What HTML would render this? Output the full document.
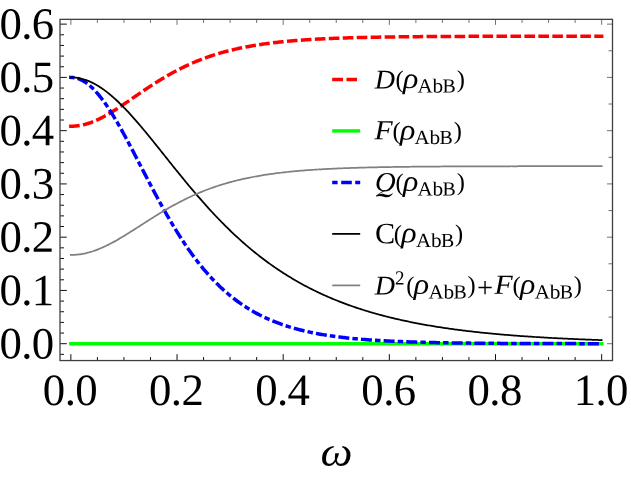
<!DOCTYPE html>
<html><head><meta charset="utf-8"><title>plot</title>
<style>html,body{margin:0;padding:0;background:#fff;}svg{display:block;will-change:transform;}text{font-family:"Liberation Serif",serif;fill:#000;}.it{font-style:italic;}</style></head><body>
<svg width="631" height="478" viewBox="0 0 631 478">
<rect x="0" y="0" width="631" height="478" fill="#fff"/>
<g fill="none" stroke-linejoin="round" stroke-linecap="square">
<path d="M70.86 126.27 L72.19 126.25 L73.51 126.20 L74.84 126.11 L76.17 126.00 L77.50 125.84 L78.82 125.66 L80.15 125.44 L81.48 125.19 L82.80 124.91 L84.13 124.59 L85.46 124.25 L86.78 123.87 L88.11 123.46 L89.44 123.03 L90.77 122.56 L92.09 122.07 L93.42 121.55 L94.75 121.01 L96.07 120.44 L97.40 119.84 L98.73 119.22 L100.05 118.58 L101.38 117.91 L102.71 117.23 L104.03 116.52 L105.36 115.80 L106.69 115.06 L108.02 114.30 L109.34 113.52 L110.67 112.73 L112.00 111.92 L113.32 111.10 L114.65 110.27 L115.98 109.43 L117.30 108.57 L118.63 107.71 L119.96 106.83 L121.29 105.95 L122.61 105.07 L123.94 104.17 L125.27 103.27 L126.59 102.37 L127.92 101.46 L129.25 100.55 L130.57 99.64 L131.90 98.72 L133.23 97.81 L134.56 96.89 L135.88 95.98 L137.21 95.07 L138.54 94.15 L139.86 93.25 L141.19 92.34 L142.52 91.44 L143.84 90.54 L145.17 89.64 L146.50 88.75 L147.83 87.87 L149.15 86.99 L150.48 86.12 L151.81 85.25 L153.13 84.39 L154.46 83.54 L155.79 82.69 L157.12 81.86 L158.44 81.03 L159.77 80.21 L161.10 79.40 L162.42 78.60 L163.75 77.80 L165.08 77.02 L166.40 76.24 L167.73 75.48 L169.06 74.72 L170.38 73.97 L171.71 73.24 L173.04 72.51 L174.37 71.79 L175.69 71.09 L177.02 70.39 L178.35 69.70 L179.67 69.03 L181.00 68.36 L182.33 67.70 L183.65 67.06 L184.98 66.42 L186.31 65.80 L187.64 65.18 L188.96 64.58 L190.29 63.98 L191.62 63.40 L192.94 62.82 L194.27 62.26 L195.60 61.70 L196.92 61.16 L198.25 60.62 L199.58 60.09 L200.91 59.58 L202.23 59.07 L203.56 58.57 L204.89 58.09 L206.21 57.61 L207.54 57.14 L208.87 56.67 L210.19 56.22 L211.52 55.78 L212.85 55.34 L214.18 54.92 L215.50 54.50 L216.83 54.09 L218.16 53.69 L219.48 53.29 L220.81 52.91 L222.14 52.53 L223.46 52.16 L224.79 51.80 L226.12 51.44 L227.45 51.10 L228.77 50.76 L230.10 50.42 L231.43 50.10 L232.75 49.78 L234.08 49.47 L235.41 49.16 L236.74 48.86 L238.06 48.57 L239.39 48.28 L240.72 48.00 L242.04 47.73 L243.37 47.46 L244.70 47.20 L246.02 46.94 L247.35 46.69 L248.68 46.44 L250.00 46.20 L251.33 45.97 L252.66 45.74 L253.99 45.51 L255.31 45.30 L256.64 45.08 L257.97 44.87 L259.29 44.67 L260.62 44.47 L261.95 44.27 L263.27 44.08 L264.60 43.89 L265.93 43.71 L267.26 43.53 L268.58 43.36 L269.91 43.19 L271.24 43.02 L272.56 42.86 L273.89 42.70 L275.22 42.54 L276.55 42.39 L277.87 42.24 L279.20 42.10 L280.53 41.96 L281.85 41.82 L283.18 41.68 L284.51 41.55 L285.83 41.42 L287.16 41.30 L288.49 41.17 L289.81 41.05 L291.14 40.94 L292.47 40.82 L293.80 40.71 L295.12 40.60 L296.45 40.50 L297.78 40.39 L299.10 40.29 L300.43 40.19 L301.76 40.10 L303.08 40.00 L304.41 39.91 L305.74 39.82 L307.07 39.73 L308.39 39.65 L309.72 39.56 L311.05 39.48 L312.37 39.40 L313.70 39.32 L315.03 39.25 L316.36 39.17 L317.68 39.10 L319.01 39.03 L320.34 38.96 L321.66 38.89 L322.99 38.83 L324.32 38.77 L325.64 38.70 L326.97 38.64 L328.30 38.58 L329.62 38.52 L330.95 38.47 L332.28 38.41 L333.61 38.36 L334.93 38.31 L336.26 38.25 L337.59 38.20 L338.91 38.16 L340.24 38.11 L341.57 38.06 L342.89 38.02 L344.22 37.97 L345.55 37.93 L346.88 37.89 L348.20 37.84 L349.53 37.80 L350.86 37.76 L352.18 37.73 L353.51 37.69 L354.84 37.65 L356.16 37.62 L357.49 37.58 L358.82 37.55 L360.15 37.52 L361.47 37.48 L362.80 37.45 L364.13 37.42 L365.45 37.39 L366.78 37.36 L368.11 37.33 L369.44 37.31 L370.76 37.28 L372.09 37.25 L373.42 37.23 L374.74 37.20 L376.07 37.18 L377.40 37.15 L378.72 37.13 L380.05 37.11 L381.38 37.08 L382.70 37.06 L384.03 37.04 L385.36 37.02 L386.69 37.00 L388.01 36.98 L389.34 36.96 L390.67 36.94 L391.99 36.93 L393.32 36.91 L394.65 36.89 L395.98 36.87 L397.30 36.86 L398.63 36.84 L399.96 36.83 L401.28 36.81 L402.61 36.80 L403.94 36.78 L405.26 36.77 L406.59 36.75 L407.92 36.74 L409.24 36.73 L410.57 36.71 L411.90 36.70 L413.23 36.69 L414.55 36.68 L415.88 36.66 L417.21 36.65 L418.53 36.64 L419.86 36.63 L421.19 36.62 L422.51 36.61 L423.84 36.60 L425.17 36.59 L426.50 36.58 L427.82 36.57 L429.15 36.56 L430.48 36.55 L431.80 36.55 L433.13 36.54 L434.46 36.53 L435.78 36.52 L437.11 36.51 L438.44 36.51 L439.77 36.50 L441.09 36.49 L442.42 36.48 L443.75 36.48 L445.07 36.47 L446.40 36.46 L447.73 36.46 L449.06 36.45 L450.38 36.44 L451.71 36.44 L453.04 36.43 L454.36 36.43 L455.69 36.42 L457.02 36.42 L458.34 36.41 L459.67 36.41 L461.00 36.40 L462.32 36.40 L463.65 36.39 L464.98 36.39 L466.31 36.38 L467.63 36.38 L468.96 36.37 L470.29 36.37 L471.61 36.36 L472.94 36.36 L474.27 36.36 L475.59 36.35 L476.92 36.35 L478.25 36.35 L479.58 36.34 L480.90 36.34 L482.23 36.34 L483.56 36.33 L484.88 36.33 L486.21 36.33 L487.54 36.32 L488.86 36.32 L490.19 36.32 L491.52 36.31 L492.85 36.31 L494.17 36.31 L495.50 36.31 L496.83 36.30 L498.15 36.30 L499.48 36.30 L500.81 36.30 L502.13 36.29 L503.46 36.29 L504.79 36.29 L506.12 36.29 L507.44 36.29 L508.77 36.28 L510.10 36.28 L511.42 36.28 L512.75 36.28 L514.08 36.28 L515.40 36.27 L516.73 36.27 L518.06 36.27 L519.39 36.27 L520.71 36.27 L522.04 36.27 L523.37 36.26 L524.69 36.26 L526.02 36.26 L527.35 36.26 L528.67 36.26 L530.00 36.26 L531.33 36.26 L532.66 36.25 L533.98 36.25 L535.31 36.25 L536.64 36.25 L537.96 36.25 L539.29 36.25 L540.62 36.25 L541.94 36.25 L543.27 36.25 L544.60 36.24 L545.93 36.24 L547.25 36.24 L548.58 36.24 L549.91 36.24 L551.23 36.24 L552.56 36.24 L553.89 36.24 L555.21 36.24 L556.54 36.24 L557.87 36.24 L559.20 36.23 L560.52 36.23 L561.85 36.23 L563.18 36.23 L564.50 36.23 L565.83 36.23 L567.16 36.23 L568.48 36.23 L569.81 36.23 L571.14 36.23 L572.47 36.23 L573.79 36.23 L575.12 36.23 L576.45 36.23 L577.77 36.23 L579.10 36.22 L580.43 36.22 L581.75 36.22 L583.08 36.22 L584.41 36.22 L585.74 36.22 L587.06 36.22 L588.39 36.22 L589.72 36.22 L591.04 36.22 L592.37 36.22 L593.70 36.22 L595.02 36.22 L596.35 36.22 L597.68 36.22 L599.01 36.22 L600.33 36.22 L601.66 36.22" stroke="#ff0000" stroke-width="3.5" stroke-dasharray="7.1 6.875"/>
<path d="M70.86 343.70 L72.19 343.70 L73.51 343.70 L74.84 343.70 L76.17 343.70 L77.50 343.70 L78.82 343.70 L80.15 343.70 L81.48 343.70 L82.80 343.70 L84.13 343.70 L85.46 343.70 L86.78 343.70 L88.11 343.70 L89.44 343.70 L90.77 343.70 L92.09 343.70 L93.42 343.70 L94.75 343.70 L96.07 343.70 L97.40 343.70 L98.73 343.70 L100.05 343.70 L101.38 343.70 L102.71 343.70 L104.03 343.70 L105.36 343.70 L106.69 343.70 L108.02 343.70 L109.34 343.70 L110.67 343.70 L112.00 343.70 L113.32 343.70 L114.65 343.70 L115.98 343.70 L117.30 343.70 L118.63 343.70 L119.96 343.70 L121.29 343.70 L122.61 343.70 L123.94 343.70 L125.27 343.70 L126.59 343.70 L127.92 343.70 L129.25 343.70 L130.57 343.70 L131.90 343.70 L133.23 343.70 L134.56 343.70 L135.88 343.70 L137.21 343.70 L138.54 343.70 L139.86 343.70 L141.19 343.70 L142.52 343.70 L143.84 343.70 L145.17 343.70 L146.50 343.70 L147.83 343.70 L149.15 343.70 L150.48 343.70 L151.81 343.70 L153.13 343.70 L154.46 343.70 L155.79 343.70 L157.12 343.70 L158.44 343.70 L159.77 343.70 L161.10 343.70 L162.42 343.70 L163.75 343.70 L165.08 343.70 L166.40 343.70 L167.73 343.70 L169.06 343.70 L170.38 343.70 L171.71 343.70 L173.04 343.70 L174.37 343.70 L175.69 343.70 L177.02 343.70 L178.35 343.70 L179.67 343.70 L181.00 343.70 L182.33 343.70 L183.65 343.70 L184.98 343.70 L186.31 343.70 L187.64 343.70 L188.96 343.70 L190.29 343.70 L191.62 343.70 L192.94 343.70 L194.27 343.70 L195.60 343.70 L196.92 343.70 L198.25 343.70 L199.58 343.70 L200.91 343.70 L202.23 343.70 L203.56 343.70 L204.89 343.70 L206.21 343.70 L207.54 343.70 L208.87 343.70 L210.19 343.70 L211.52 343.70 L212.85 343.70 L214.18 343.70 L215.50 343.70 L216.83 343.70 L218.16 343.70 L219.48 343.70 L220.81 343.70 L222.14 343.70 L223.46 343.70 L224.79 343.70 L226.12 343.70 L227.45 343.70 L228.77 343.70 L230.10 343.70 L231.43 343.70 L232.75 343.70 L234.08 343.70 L235.41 343.70 L236.74 343.70 L238.06 343.70 L239.39 343.70 L240.72 343.70 L242.04 343.70 L243.37 343.70 L244.70 343.70 L246.02 343.70 L247.35 343.70 L248.68 343.70 L250.00 343.70 L251.33 343.70 L252.66 343.70 L253.99 343.70 L255.31 343.70 L256.64 343.70 L257.97 343.70 L259.29 343.70 L260.62 343.70 L261.95 343.70 L263.27 343.70 L264.60 343.70 L265.93 343.70 L267.26 343.70 L268.58 343.70 L269.91 343.70 L271.24 343.70 L272.56 343.70 L273.89 343.70 L275.22 343.70 L276.55 343.70 L277.87 343.70 L279.20 343.70 L280.53 343.70 L281.85 343.70 L283.18 343.70 L284.51 343.70 L285.83 343.70 L287.16 343.70 L288.49 343.70 L289.81 343.70 L291.14 343.70 L292.47 343.70 L293.80 343.70 L295.12 343.70 L296.45 343.70 L297.78 343.70 L299.10 343.70 L300.43 343.70 L301.76 343.70 L303.08 343.70 L304.41 343.70 L305.74 343.70 L307.07 343.70 L308.39 343.70 L309.72 343.70 L311.05 343.70 L312.37 343.70 L313.70 343.70 L315.03 343.70 L316.36 343.70 L317.68 343.70 L319.01 343.70 L320.34 343.70 L321.66 343.70 L322.99 343.70 L324.32 343.70 L325.64 343.70 L326.97 343.70 L328.30 343.70 L329.62 343.70 L330.95 343.70 L332.28 343.70 L333.61 343.70 L334.93 343.70 L336.26 343.70 L337.59 343.70 L338.91 343.70 L340.24 343.70 L341.57 343.70 L342.89 343.70 L344.22 343.70 L345.55 343.70 L346.88 343.70 L348.20 343.70 L349.53 343.70 L350.86 343.70 L352.18 343.70 L353.51 343.70 L354.84 343.70 L356.16 343.70 L357.49 343.70 L358.82 343.70 L360.15 343.70 L361.47 343.70 L362.80 343.70 L364.13 343.70 L365.45 343.70 L366.78 343.70 L368.11 343.70 L369.44 343.70 L370.76 343.70 L372.09 343.70 L373.42 343.70 L374.74 343.70 L376.07 343.70 L377.40 343.70 L378.72 343.70 L380.05 343.70 L381.38 343.70 L382.70 343.70 L384.03 343.70 L385.36 343.70 L386.69 343.70 L388.01 343.70 L389.34 343.70 L390.67 343.70 L391.99 343.70 L393.32 343.70 L394.65 343.70 L395.98 343.70 L397.30 343.70 L398.63 343.70 L399.96 343.70 L401.28 343.70 L402.61 343.70 L403.94 343.70 L405.26 343.70 L406.59 343.70 L407.92 343.70 L409.24 343.70 L410.57 343.70 L411.90 343.70 L413.23 343.70 L414.55 343.70 L415.88 343.70 L417.21 343.70 L418.53 343.70 L419.86 343.70 L421.19 343.70 L422.51 343.70 L423.84 343.70 L425.17 343.70 L426.50 343.70 L427.82 343.70 L429.15 343.70 L430.48 343.70 L431.80 343.70 L433.13 343.70 L434.46 343.70 L435.78 343.70 L437.11 343.70 L438.44 343.70 L439.77 343.70 L441.09 343.70 L442.42 343.70 L443.75 343.70 L445.07 343.70 L446.40 343.70 L447.73 343.70 L449.06 343.70 L450.38 343.70 L451.71 343.70 L453.04 343.70 L454.36 343.70 L455.69 343.70 L457.02 343.70 L458.34 343.70 L459.67 343.70 L461.00 343.70 L462.32 343.70 L463.65 343.70 L464.98 343.70 L466.31 343.70 L467.63 343.70 L468.96 343.70 L470.29 343.70 L471.61 343.70 L472.94 343.70 L474.27 343.70 L475.59 343.70 L476.92 343.70 L478.25 343.70 L479.58 343.70 L480.90 343.70 L482.23 343.70 L483.56 343.70 L484.88 343.70 L486.21 343.70 L487.54 343.70 L488.86 343.70 L490.19 343.70 L491.52 343.70 L492.85 343.70 L494.17 343.70 L495.50 343.70 L496.83 343.70 L498.15 343.70 L499.48 343.70 L500.81 343.70 L502.13 343.70 L503.46 343.70 L504.79 343.70 L506.12 343.70 L507.44 343.70 L508.77 343.70 L510.10 343.70 L511.42 343.70 L512.75 343.70 L514.08 343.70 L515.40 343.70 L516.73 343.70 L518.06 343.70 L519.39 343.70 L520.71 343.70 L522.04 343.70 L523.37 343.70 L524.69 343.70 L526.02 343.70 L527.35 343.70 L528.67 343.70 L530.00 343.70 L531.33 343.70 L532.66 343.70 L533.98 343.70 L535.31 343.70 L536.64 343.70 L537.96 343.70 L539.29 343.70 L540.62 343.70 L541.94 343.70 L543.27 343.70 L544.60 343.70 L545.93 343.70 L547.25 343.70 L548.58 343.70 L549.91 343.70 L551.23 343.70 L552.56 343.70 L553.89 343.70 L555.21 343.70 L556.54 343.70 L557.87 343.70 L559.20 343.70 L560.52 343.70 L561.85 343.70 L563.18 343.70 L564.50 343.70 L565.83 343.70 L567.16 343.70 L568.48 343.70 L569.81 343.70 L571.14 343.70 L572.47 343.70 L573.79 343.70 L575.12 343.70 L576.45 343.70 L577.77 343.70 L579.10 343.70 L580.43 343.70 L581.75 343.70 L583.08 343.70 L584.41 343.70 L585.74 343.70 L587.06 343.70 L588.39 343.70 L589.72 343.70 L591.04 343.70 L592.37 343.70 L593.70 343.70 L595.02 343.70 L596.35 343.70 L597.68 343.70 L599.01 343.70 L600.33 343.70 L601.66 343.70" stroke="#00ff00" stroke-width="3.5"/>
<path d="M70.86 77.40 L72.19 77.44 L73.51 77.57 L74.84 77.77 L76.17 78.06 L77.50 78.44 L78.82 78.89 L80.15 79.43 L81.48 80.05 L82.80 80.74 L84.13 81.52 L85.46 82.37 L86.78 83.30 L88.11 84.31 L89.44 85.39 L90.77 86.55 L92.09 87.77 L93.42 89.07 L94.75 90.44 L96.07 91.87 L97.40 93.37 L98.73 94.94 L100.05 96.57 L101.38 98.25 L102.71 100.00 L104.03 101.80 L105.36 103.66 L106.69 105.57 L108.02 107.53 L109.34 109.54 L110.67 111.60 L112.00 113.70 L113.32 115.84 L114.65 118.03 L115.98 120.25 L117.30 122.51 L118.63 124.80 L119.96 127.13 L121.29 129.48 L122.61 131.86 L123.94 134.27 L125.27 136.70 L126.59 139.15 L127.92 141.62 L129.25 144.11 L130.57 146.62 L131.90 149.14 L133.23 151.67 L134.56 154.21 L135.88 156.75 L137.21 159.31 L138.54 161.87 L139.86 164.43 L141.19 166.99 L142.52 169.55 L143.84 172.11 L145.17 174.67 L146.50 177.22 L147.83 179.76 L149.15 182.30 L150.48 184.83 L151.81 187.35 L153.13 189.85 L154.46 192.34 L155.79 194.82 L157.12 197.29 L158.44 199.74 L159.77 202.17 L161.10 204.58 L162.42 206.97 L163.75 209.35 L165.08 211.70 L166.40 214.03 L167.73 216.34 L169.06 218.63 L170.38 220.90 L171.71 223.14 L173.04 225.36 L174.37 227.55 L175.69 229.72 L177.02 231.86 L178.35 233.98 L179.67 236.07 L181.00 238.13 L182.33 240.17 L183.65 242.18 L184.98 244.16 L186.31 246.12 L187.64 248.04 L188.96 249.95 L190.29 251.82 L191.62 253.66 L192.94 255.48 L194.27 257.27 L195.60 259.03 L196.92 260.77 L198.25 262.47 L199.58 264.15 L200.91 265.80 L202.23 267.43 L203.56 269.03 L204.89 270.60 L206.21 272.14 L207.54 273.66 L208.87 275.15 L210.19 276.61 L211.52 278.05 L212.85 279.46 L214.18 280.84 L215.50 282.21 L216.83 283.54 L218.16 284.85 L219.48 286.14 L220.81 287.40 L222.14 288.64 L223.46 289.85 L224.79 291.04 L226.12 292.21 L227.45 293.36 L228.77 294.48 L230.10 295.58 L231.43 296.66 L232.75 297.71 L234.08 298.75 L235.41 299.76 L236.74 300.76 L238.06 301.73 L239.39 302.68 L240.72 303.61 L242.04 304.53 L243.37 305.42 L244.70 306.30 L246.02 307.16 L247.35 308.00 L248.68 308.82 L250.00 309.62 L251.33 310.41 L252.66 311.18 L253.99 311.93 L255.31 312.67 L256.64 313.39 L257.97 314.10 L259.29 314.79 L260.62 315.46 L261.95 316.12 L263.27 316.77 L264.60 317.40 L265.93 318.02 L267.26 318.62 L268.58 319.21 L269.91 319.79 L271.24 320.35 L272.56 320.90 L273.89 321.44 L275.22 321.97 L276.55 322.48 L277.87 322.99 L279.20 323.48 L280.53 323.96 L281.85 324.43 L283.18 324.89 L284.51 325.33 L285.83 325.77 L287.16 326.20 L288.49 326.62 L289.81 327.03 L291.14 327.42 L292.47 327.81 L293.80 328.20 L295.12 328.57 L296.45 328.93 L297.78 329.28 L299.10 329.63 L300.43 329.97 L301.76 330.30 L303.08 330.62 L304.41 330.94 L305.74 331.25 L307.07 331.55 L308.39 331.84 L309.72 332.13 L311.05 332.40 L312.37 332.68 L313.70 332.94 L315.03 333.20 L316.36 333.46 L317.68 333.71 L319.01 333.95 L320.34 334.19 L321.66 334.42 L322.99 334.64 L324.32 334.86 L325.64 335.08 L326.97 335.29 L328.30 335.49 L329.62 335.69 L330.95 335.88 L332.28 336.07 L333.61 336.26 L334.93 336.44 L336.26 336.62 L337.59 336.79 L338.91 336.96 L340.24 337.12 L341.57 337.28 L342.89 337.44 L344.22 337.59 L345.55 337.74 L346.88 337.89 L348.20 338.03 L349.53 338.17 L350.86 338.30 L352.18 338.44 L353.51 338.56 L354.84 338.69 L356.16 338.81 L357.49 338.93 L358.82 339.05 L360.15 339.16 L361.47 339.27 L362.80 339.38 L364.13 339.49 L365.45 339.59 L366.78 339.69 L368.11 339.79 L369.44 339.89 L370.76 339.98 L372.09 340.07 L373.42 340.16 L374.74 340.25 L376.07 340.33 L377.40 340.41 L378.72 340.49 L380.05 340.57 L381.38 340.65 L382.70 340.72 L384.03 340.80 L385.36 340.87 L386.69 340.94 L388.01 341.01 L389.34 341.07 L390.67 341.14 L391.99 341.20 L393.32 341.26 L394.65 341.32 L395.98 341.38 L397.30 341.44 L398.63 341.49 L399.96 341.55 L401.28 341.60 L402.61 341.65 L403.94 341.70 L405.26 341.75 L406.59 341.80 L407.92 341.85 L409.24 341.89 L410.57 341.94 L411.90 341.98 L413.23 342.02 L414.55 342.06 L415.88 342.10 L417.21 342.14 L418.53 342.18 L419.86 342.22 L421.19 342.25 L422.51 342.29 L423.84 342.33 L425.17 342.36 L426.50 342.39 L427.82 342.42 L429.15 342.46 L430.48 342.49 L431.80 342.52 L433.13 342.55 L434.46 342.57 L435.78 342.60 L437.11 342.63 L438.44 342.66 L439.77 342.68 L441.09 342.71 L442.42 342.73 L443.75 342.75 L445.07 342.78 L446.40 342.80 L447.73 342.82 L449.06 342.84 L450.38 342.87 L451.71 342.89 L453.04 342.91 L454.36 342.93 L455.69 342.94 L457.02 342.96 L458.34 342.98 L459.67 343.00 L461.00 343.02 L462.32 343.03 L463.65 343.05 L464.98 343.07 L466.31 343.08 L467.63 343.10 L468.96 343.11 L470.29 343.13 L471.61 343.14 L472.94 343.15 L474.27 343.17 L475.59 343.18 L476.92 343.19 L478.25 343.21 L479.58 343.22 L480.90 343.23 L482.23 343.24 L483.56 343.25 L484.88 343.26 L486.21 343.27 L487.54 343.29 L488.86 343.30 L490.19 343.31 L491.52 343.32 L492.85 343.32 L494.17 343.33 L495.50 343.34 L496.83 343.35 L498.15 343.36 L499.48 343.37 L500.81 343.38 L502.13 343.38 L503.46 343.39 L504.79 343.40 L506.12 343.41 L507.44 343.41 L508.77 343.42 L510.10 343.43 L511.42 343.44 L512.75 343.44 L514.08 343.45 L515.40 343.45 L516.73 343.46 L518.06 343.47 L519.39 343.47 L520.71 343.48 L522.04 343.48 L523.37 343.49 L524.69 343.49 L526.02 343.50 L527.35 343.50 L528.67 343.51 L530.00 343.51 L531.33 343.52 L532.66 343.52 L533.98 343.53 L535.31 343.53 L536.64 343.54 L537.96 343.54 L539.29 343.54 L540.62 343.55 L541.94 343.55 L543.27 343.55 L544.60 343.56 L545.93 343.56 L547.25 343.57 L548.58 343.57 L549.91 343.57 L551.23 343.57 L552.56 343.58 L553.89 343.58 L555.21 343.58 L556.54 343.59 L557.87 343.59 L559.20 343.59 L560.52 343.60 L561.85 343.60 L563.18 343.60 L564.50 343.60 L565.83 343.61 L567.16 343.61 L568.48 343.61 L569.81 343.61 L571.14 343.61 L572.47 343.62 L573.79 343.62 L575.12 343.62 L576.45 343.62 L577.77 343.62 L579.10 343.63 L580.43 343.63 L581.75 343.63 L583.08 343.63 L584.41 343.63 L585.74 343.63 L587.06 343.64 L588.39 343.64 L589.72 343.64 L591.04 343.64 L592.37 343.64 L593.70 343.64 L595.02 343.65 L596.35 343.65 L597.68 343.65 L599.01 343.65 L600.33 343.65 L601.66 343.65" stroke="#0000ff" stroke-width="3.5" stroke-dasharray="2 6.6 7.5 6.6"/>
<path d="M70.86 77.40 L72.19 77.42 L73.51 77.48 L74.84 77.59 L76.17 77.73 L77.50 77.92 L78.82 78.15 L80.15 78.42 L81.48 78.73 L82.80 79.08 L84.13 79.47 L85.46 79.90 L86.78 80.37 L88.11 80.88 L89.44 81.43 L90.77 82.01 L92.09 82.64 L93.42 83.30 L94.75 84.00 L96.07 84.74 L97.40 85.51 L98.73 86.32 L100.05 87.16 L101.38 88.04 L102.71 88.95 L104.03 89.89 L105.36 90.87 L106.69 91.88 L108.02 92.92 L109.34 93.99 L110.67 95.09 L112.00 96.21 L113.32 97.37 L114.65 98.55 L115.98 99.76 L117.30 101.00 L118.63 102.26 L119.96 103.55 L121.29 104.86 L122.61 106.19 L123.94 107.54 L125.27 108.91 L126.59 110.31 L127.92 111.72 L129.25 113.16 L130.57 114.61 L131.90 116.08 L133.23 117.56 L134.56 119.06 L135.88 120.58 L137.21 122.11 L138.54 123.65 L139.86 125.21 L141.19 126.77 L142.52 128.35 L143.84 129.94 L145.17 131.54 L146.50 133.14 L147.83 134.76 L149.15 136.38 L150.48 138.01 L151.81 139.65 L153.13 141.29 L154.46 142.94 L155.79 144.59 L157.12 146.24 L158.44 147.90 L159.77 149.56 L161.10 151.22 L162.42 152.88 L163.75 154.55 L165.08 156.21 L166.40 157.88 L167.73 159.54 L169.06 161.20 L170.38 162.86 L171.71 164.52 L173.04 166.18 L174.37 167.83 L175.69 169.48 L177.02 171.12 L178.35 172.76 L179.67 174.40 L181.00 176.03 L182.33 177.66 L183.65 179.28 L184.98 180.89 L186.31 182.50 L187.64 184.10 L188.96 185.69 L190.29 187.28 L191.62 188.86 L192.94 190.43 L194.27 191.99 L195.60 193.54 L196.92 195.09 L198.25 196.63 L199.58 198.15 L200.91 199.67 L202.23 201.18 L203.56 202.68 L204.89 204.17 L206.21 205.65 L207.54 207.12 L208.87 208.59 L210.19 210.04 L211.52 211.48 L212.85 212.90 L214.18 214.32 L215.50 215.73 L216.83 217.13 L218.16 218.52 L219.48 219.89 L220.81 221.26 L222.14 222.61 L223.46 223.95 L224.79 225.28 L226.12 226.60 L227.45 227.91 L228.77 229.21 L230.10 230.50 L231.43 231.77 L232.75 233.04 L234.08 234.29 L235.41 235.53 L236.74 236.76 L238.06 237.98 L239.39 239.19 L240.72 240.38 L242.04 241.57 L243.37 242.74 L244.70 243.90 L246.02 245.05 L247.35 246.19 L248.68 247.32 L250.00 248.44 L251.33 249.55 L252.66 250.64 L253.99 251.72 L255.31 252.80 L256.64 253.86 L257.97 254.91 L259.29 255.95 L260.62 256.98 L261.95 258.00 L263.27 259.01 L264.60 260.01 L265.93 261.00 L267.26 261.98 L268.58 262.94 L269.91 263.90 L271.24 264.85 L272.56 265.78 L273.89 266.71 L275.22 267.63 L276.55 268.53 L277.87 269.43 L279.20 270.31 L280.53 271.19 L281.85 272.06 L283.18 272.92 L284.51 273.77 L285.83 274.60 L287.16 275.43 L288.49 276.25 L289.81 277.06 L291.14 277.87 L292.47 278.66 L293.80 279.44 L295.12 280.22 L296.45 280.98 L297.78 281.74 L299.10 282.49 L300.43 283.23 L301.76 283.96 L303.08 284.69 L304.41 285.40 L305.74 286.11 L307.07 286.81 L308.39 287.50 L309.72 288.18 L311.05 288.86 L312.37 289.52 L313.70 290.18 L315.03 290.83 L316.36 291.48 L317.68 292.11 L319.01 292.74 L320.34 293.36 L321.66 293.98 L322.99 294.59 L324.32 295.19 L325.64 295.78 L326.97 296.36 L328.30 296.94 L329.62 297.51 L330.95 298.08 L332.28 298.64 L333.61 299.19 L334.93 299.74 L336.26 300.27 L337.59 300.81 L338.91 301.33 L340.24 301.85 L341.57 302.37 L342.89 302.87 L344.22 303.37 L345.55 303.87 L346.88 304.36 L348.20 304.84 L349.53 305.32 L350.86 305.79 L352.18 306.26 L353.51 306.72 L354.84 307.17 L356.16 307.62 L357.49 308.07 L358.82 308.51 L360.15 308.94 L361.47 309.37 L362.80 309.79 L364.13 310.21 L365.45 310.62 L366.78 311.03 L368.11 311.43 L369.44 311.83 L370.76 312.22 L372.09 312.61 L373.42 312.99 L374.74 313.37 L376.07 313.75 L377.40 314.12 L378.72 314.48 L380.05 314.84 L381.38 315.20 L382.70 315.55 L384.03 315.90 L385.36 316.24 L386.69 316.58 L388.01 316.92 L389.34 317.25 L390.67 317.58 L391.99 317.90 L393.32 318.22 L394.65 318.53 L395.98 318.84 L397.30 319.15 L398.63 319.46 L399.96 319.76 L401.28 320.05 L402.61 320.34 L403.94 320.63 L405.26 320.92 L406.59 321.20 L407.92 321.48 L409.24 321.75 L410.57 322.03 L411.90 322.29 L413.23 322.56 L414.55 322.82 L415.88 323.08 L417.21 323.34 L418.53 323.59 L419.86 323.84 L421.19 324.08 L422.51 324.33 L423.84 324.57 L425.17 324.80 L426.50 325.04 L427.82 325.27 L429.15 325.50 L430.48 325.72 L431.80 325.95 L433.13 326.17 L434.46 326.38 L435.78 326.60 L437.11 326.81 L438.44 327.02 L439.77 327.23 L441.09 327.43 L442.42 327.63 L443.75 327.83 L445.07 328.03 L446.40 328.22 L447.73 328.41 L449.06 328.60 L450.38 328.79 L451.71 328.98 L453.04 329.16 L454.36 329.34 L455.69 329.52 L457.02 329.69 L458.34 329.87 L459.67 330.04 L461.00 330.21 L462.32 330.37 L463.65 330.54 L464.98 330.70 L466.31 330.86 L467.63 331.02 L468.96 331.18 L470.29 331.34 L471.61 331.49 L472.94 331.64 L474.27 331.79 L475.59 331.94 L476.92 332.09 L478.25 332.23 L479.58 332.37 L480.90 332.51 L482.23 332.65 L483.56 332.79 L484.88 332.92 L486.21 333.06 L487.54 333.19 L488.86 333.32 L490.19 333.45 L491.52 333.58 L492.85 333.70 L494.17 333.83 L495.50 333.95 L496.83 334.07 L498.15 334.19 L499.48 334.31 L500.81 334.42 L502.13 334.54 L503.46 334.65 L504.79 334.76 L506.12 334.88 L507.44 334.99 L508.77 335.09 L510.10 335.20 L511.42 335.31 L512.75 335.41 L514.08 335.51 L515.40 335.61 L516.73 335.72 L518.06 335.81 L519.39 335.91 L520.71 336.01 L522.04 336.10 L523.37 336.20 L524.69 336.29 L526.02 336.38 L527.35 336.47 L528.67 336.56 L530.00 336.65 L531.33 336.74 L532.66 336.83 L533.98 336.91 L535.31 337.00 L536.64 337.08 L537.96 337.16 L539.29 337.24 L540.62 337.32 L541.94 337.40 L543.27 337.48 L544.60 337.56 L545.93 337.63 L547.25 337.71 L548.58 337.78 L549.91 337.86 L551.23 337.93 L552.56 338.00 L553.89 338.07 L555.21 338.14 L556.54 338.21 L557.87 338.28 L559.20 338.35 L560.52 338.41 L561.85 338.48 L563.18 338.54 L564.50 338.61 L565.83 338.67 L567.16 338.73 L568.48 338.80 L569.81 338.86 L571.14 338.92 L572.47 338.98 L573.79 339.03 L575.12 339.09 L576.45 339.15 L577.77 339.21 L579.10 339.26 L580.43 339.32 L581.75 339.37 L583.08 339.43 L584.41 339.48 L585.74 339.53 L587.06 339.58 L588.39 339.63 L589.72 339.68 L591.04 339.73 L592.37 339.78 L593.70 339.83 L595.02 339.88 L596.35 339.93 L597.68 339.97 L599.01 340.02 L600.33 340.07 L601.66 340.11" stroke="#000" stroke-width="1.75"/>
<path d="M70.86 254.93 L72.19 254.92 L73.51 254.88 L74.84 254.81 L76.17 254.71 L77.50 254.59 L78.82 254.44 L80.15 254.26 L81.48 254.05 L82.80 253.82 L84.13 253.56 L85.46 253.28 L86.78 252.97 L88.11 252.63 L89.44 252.27 L90.77 251.88 L92.09 251.48 L93.42 251.04 L94.75 250.59 L96.07 250.11 L97.40 249.61 L98.73 249.09 L100.05 248.54 L101.38 247.98 L102.71 247.40 L104.03 246.80 L105.36 246.18 L106.69 245.54 L108.02 244.89 L109.34 244.22 L110.67 243.53 L112.00 242.83 L113.32 242.12 L114.65 241.39 L115.98 240.65 L117.30 239.90 L118.63 239.13 L119.96 238.36 L121.29 237.57 L122.61 236.78 L123.94 235.98 L125.27 235.17 L126.59 234.35 L127.92 233.53 L129.25 232.70 L130.57 231.86 L131.90 231.02 L133.23 230.18 L134.56 229.33 L135.88 228.48 L137.21 227.63 L138.54 226.78 L139.86 225.92 L141.19 225.07 L142.52 224.22 L143.84 223.36 L145.17 222.51 L146.50 221.66 L147.83 220.81 L149.15 219.97 L150.48 219.12 L151.81 218.28 L153.13 217.45 L154.46 216.62 L155.79 215.79 L157.12 214.97 L158.44 214.15 L159.77 213.34 L161.10 212.54 L162.42 211.74 L163.75 210.95 L165.08 210.17 L166.40 209.39 L167.73 208.62 L169.06 207.86 L170.38 207.10 L171.71 206.35 L173.04 205.61 L174.37 204.88 L175.69 204.16 L177.02 203.45 L178.35 202.74 L179.67 202.04 L181.00 201.36 L182.33 200.68 L183.65 200.01 L184.98 199.35 L186.31 198.69 L187.64 198.05 L188.96 197.42 L190.29 196.79 L191.62 196.18 L192.94 195.57 L194.27 194.98 L195.60 194.39 L196.92 193.81 L198.25 193.24 L199.58 192.68 L200.91 192.13 L202.23 191.59 L203.56 191.06 L204.89 190.53 L206.21 190.02 L207.54 189.51 L208.87 189.02 L210.19 188.53 L211.52 188.05 L212.85 187.58 L214.18 187.12 L215.50 186.66 L216.83 186.22 L218.16 185.78 L219.48 185.35 L220.81 184.93 L222.14 184.52 L223.46 184.12 L224.79 183.72 L226.12 183.33 L227.45 182.95 L228.77 182.57 L230.10 182.21 L231.43 181.85 L232.75 181.50 L234.08 181.15 L235.41 180.81 L236.74 180.48 L238.06 180.16 L239.39 179.84 L240.72 179.53 L242.04 179.22 L243.37 178.93 L244.70 178.63 L246.02 178.35 L247.35 178.07 L248.68 177.79 L250.00 177.53 L251.33 177.26 L252.66 177.01 L253.99 176.76 L255.31 176.51 L256.64 176.27 L257.97 176.03 L259.29 175.80 L260.62 175.58 L261.95 175.36 L263.27 175.14 L264.60 174.93 L265.93 174.73 L267.26 174.53 L268.58 174.33 L269.91 174.14 L271.24 173.95 L272.56 173.77 L273.89 173.59 L275.22 173.41 L276.55 173.24 L277.87 173.07 L279.20 172.91 L280.53 172.75 L281.85 172.59 L283.18 172.44 L284.51 172.29 L285.83 172.14 L287.16 172.00 L288.49 171.86 L289.81 171.72 L291.14 171.59 L292.47 171.46 L293.80 171.33 L295.12 171.21 L296.45 171.09 L297.78 170.97 L299.10 170.86 L300.43 170.74 L301.76 170.63 L303.08 170.53 L304.41 170.42 L305.74 170.32 L307.07 170.22 L308.39 170.12 L309.72 170.02 L311.05 169.93 L312.37 169.84 L313.70 169.75 L315.03 169.67 L316.36 169.58 L317.68 169.50 L319.01 169.42 L320.34 169.34 L321.66 169.26 L322.99 169.19 L324.32 169.11 L325.64 169.04 L326.97 168.97 L328.30 168.90 L329.62 168.84 L330.95 168.77 L332.28 168.71 L333.61 168.65 L334.93 168.59 L336.26 168.53 L337.59 168.47 L338.91 168.41 L340.24 168.36 L341.57 168.31 L342.89 168.25 L344.22 168.20 L345.55 168.15 L346.88 168.10 L348.20 168.06 L349.53 168.01 L350.86 167.97 L352.18 167.92 L353.51 167.88 L354.84 167.84 L356.16 167.80 L357.49 167.76 L358.82 167.72 L360.15 167.68 L361.47 167.64 L362.80 167.61 L364.13 167.57 L365.45 167.54 L366.78 167.50 L368.11 167.47 L369.44 167.44 L370.76 167.41 L372.09 167.38 L373.42 167.35 L374.74 167.32 L376.07 167.29 L377.40 167.26 L378.72 167.24 L380.05 167.21 L381.38 167.18 L382.70 167.16 L384.03 167.13 L385.36 167.11 L386.69 167.09 L388.01 167.06 L389.34 167.04 L390.67 167.02 L391.99 167.00 L393.32 166.98 L394.65 166.96 L395.98 166.94 L397.30 166.92 L398.63 166.90 L399.96 166.88 L401.28 166.87 L402.61 166.85 L403.94 166.83 L405.26 166.82 L406.59 166.80 L407.92 166.78 L409.24 166.77 L410.57 166.75 L411.90 166.74 L413.23 166.73 L414.55 166.71 L415.88 166.70 L417.21 166.69 L418.53 166.67 L419.86 166.66 L421.19 166.65 L422.51 166.64 L423.84 166.62 L425.17 166.61 L426.50 166.60 L427.82 166.59 L429.15 166.58 L430.48 166.57 L431.80 166.56 L433.13 166.55 L434.46 166.54 L435.78 166.53 L437.11 166.52 L438.44 166.51 L439.77 166.51 L441.09 166.50 L442.42 166.49 L443.75 166.48 L445.07 166.47 L446.40 166.47 L447.73 166.46 L449.06 166.45 L450.38 166.44 L451.71 166.44 L453.04 166.43 L454.36 166.42 L455.69 166.42 L457.02 166.41 L458.34 166.41 L459.67 166.40 L461.00 166.39 L462.32 166.39 L463.65 166.38 L464.98 166.38 L466.31 166.37 L467.63 166.37 L468.96 166.36 L470.29 166.36 L471.61 166.35 L472.94 166.35 L474.27 166.34 L475.59 166.34 L476.92 166.34 L478.25 166.33 L479.58 166.33 L480.90 166.32 L482.23 166.32 L483.56 166.32 L484.88 166.31 L486.21 166.31 L487.54 166.30 L488.86 166.30 L490.19 166.30 L491.52 166.29 L492.85 166.29 L494.17 166.29 L495.50 166.29 L496.83 166.28 L498.15 166.28 L499.48 166.28 L500.81 166.27 L502.13 166.27 L503.46 166.27 L504.79 166.27 L506.12 166.26 L507.44 166.26 L508.77 166.26 L510.10 166.26 L511.42 166.25 L512.75 166.25 L514.08 166.25 L515.40 166.25 L516.73 166.25 L518.06 166.24 L519.39 166.24 L520.71 166.24 L522.04 166.24 L523.37 166.24 L524.69 166.24 L526.02 166.23 L527.35 166.23 L528.67 166.23 L530.00 166.23 L531.33 166.23 L532.66 166.23 L533.98 166.22 L535.31 166.22 L536.64 166.22 L537.96 166.22 L539.29 166.22 L540.62 166.22 L541.94 166.22 L543.27 166.22 L544.60 166.21 L545.93 166.21 L547.25 166.21 L548.58 166.21 L549.91 166.21 L551.23 166.21 L552.56 166.21 L553.89 166.21 L555.21 166.21 L556.54 166.20 L557.87 166.20 L559.20 166.20 L560.52 166.20 L561.85 166.20 L563.18 166.20 L564.50 166.20 L565.83 166.20 L567.16 166.20 L568.48 166.20 L569.81 166.20 L571.14 166.20 L572.47 166.19 L573.79 166.19 L575.12 166.19 L576.45 166.19 L577.77 166.19 L579.10 166.19 L580.43 166.19 L581.75 166.19 L583.08 166.19 L584.41 166.19 L585.74 166.19 L587.06 166.19 L588.39 166.19 L589.72 166.19 L591.04 166.19 L592.37 166.19 L593.70 166.19 L595.02 166.18 L596.35 166.18 L597.68 166.18 L599.01 166.18 L600.33 166.18 L601.66 166.18" stroke="#808080" stroke-width="1.75"/>
</g>
<path d="M60.00 354.35 h4.00 M60.00 343.70 h6.80 M60.00 333.05 h4.00 M60.00 322.40 h4.00 M60.00 311.74 h4.00 M60.00 301.09 h4.00 M60.00 290.44 h6.80 M60.00 279.79 h4.00 M60.00 269.14 h4.00 M60.00 258.48 h4.00 M60.00 247.83 h4.00 M60.00 237.18 h6.80 M60.00 226.53 h4.00 M60.00 215.88 h4.00 M60.00 205.22 h4.00 M60.00 194.57 h4.00 M60.00 183.92 h6.80 M60.00 173.27 h4.00 M60.00 162.62 h4.00 M60.00 151.96 h4.00 M60.00 141.31 h4.00 M60.00 130.66 h6.80 M60.00 120.01 h4.00 M60.00 109.36 h4.00 M60.00 98.70 h4.00 M60.00 88.05 h4.00 M60.00 77.40 h6.80 M60.00 66.75 h4.00 M60.00 56.10 h4.00 M60.00 45.44 h4.00 M60.00 34.79 h4.00 M60.00 24.14 h6.80" stroke="#111" stroke-width="1" fill="none"/>
<path d="M70.86 360.55 v-6.40 M97.40 360.55 v-3.50 M123.94 360.55 v-3.50 M150.48 360.55 v-3.50 M177.02 360.55 v-6.40 M203.56 360.55 v-3.50 M230.10 360.55 v-3.50 M256.64 360.55 v-3.50 M283.18 360.55 v-6.40 M309.72 360.55 v-3.50 M336.26 360.55 v-3.50 M362.80 360.55 v-3.50 M389.34 360.55 v-6.40 M415.88 360.55 v-3.50 M442.42 360.55 v-3.50 M468.96 360.55 v-3.50 M495.50 360.55 v-6.40 M522.04 360.55 v-3.50 M548.58 360.55 v-3.50 M575.12 360.55 v-3.50 M601.66 360.55 v-6.40" stroke="#111" stroke-width="1" fill="none"/>
<path d="M70.86 19.35 v5.50 M97.40 19.35 v3.60 M123.94 19.35 v3.60 M150.48 19.35 v3.60 M177.02 19.35 v5.50 M203.56 19.35 v3.60 M230.10 19.35 v3.60 M256.64 19.35 v3.60 M283.18 19.35 v5.50 M309.72 19.35 v3.60 M336.26 19.35 v3.60 M362.80 19.35 v3.60 M389.34 19.35 v5.50 M415.88 19.35 v3.60 M442.42 19.35 v3.60 M468.96 19.35 v3.60 M495.50 19.35 v5.50 M522.04 19.35 v3.60 M548.58 19.35 v3.60 M575.12 19.35 v3.60 M601.66 19.35 v5.50" stroke="#333" stroke-width="0.7" fill="none"/>
<path d="M612.50 343.70 h-5.50 M612.50 317.07 h-4.00 M612.50 290.44 h-5.50 M612.50 263.81 h-4.00 M612.50 237.18 h-5.50 M612.50 210.55 h-4.00 M612.50 183.92 h-5.50 M612.50 157.29 h-4.00 M612.50 130.66 h-5.50 M612.50 104.03 h-4.00 M612.50 77.40 h-5.50 M612.50 50.77 h-4.00 M612.50 24.14 h-5.50" stroke="#333" stroke-width="0.7" fill="none"/>
<rect x="60.00" y="19.35" width="552.50" height="341.20" fill="none" stroke="#404040" stroke-width="1.3"/>
<text transform="translate(53.60 358.40) rotate(0.03)" font-size="44.80" letter-spacing="-0.60" text-anchor="end">0.0</text>
<text transform="translate(53.60 305.14) rotate(0.03)" font-size="44.80" letter-spacing="-0.60" text-anchor="end">0.1</text>
<text transform="translate(53.60 251.88) rotate(0.03)" font-size="44.80" letter-spacing="-0.60" text-anchor="end">0.2</text>
<text transform="translate(53.60 198.62) rotate(0.03)" font-size="44.80" letter-spacing="-0.60" text-anchor="end">0.3</text>
<text transform="translate(53.60 145.36) rotate(0.03)" font-size="44.80" letter-spacing="-0.60" text-anchor="end">0.4</text>
<text transform="translate(53.60 92.10) rotate(0.03)" font-size="44.80" letter-spacing="-0.60" text-anchor="end">0.5</text>
<text transform="translate(53.60 38.84) rotate(0.03)" font-size="44.80" letter-spacing="-0.60" text-anchor="end">0.6</text>
<text transform="translate(69.96 404.95) rotate(0.03)" font-size="44.80" letter-spacing="-0.60" text-anchor="middle">0.0</text>
<text transform="translate(176.12 404.95) rotate(0.03)" font-size="44.80" letter-spacing="-0.60" text-anchor="middle">0.2</text>
<text transform="translate(282.28 404.95) rotate(0.03)" font-size="44.80" letter-spacing="-0.60" text-anchor="middle">0.4</text>
<text transform="translate(388.44 404.95) rotate(0.03)" font-size="44.80" letter-spacing="-0.60" text-anchor="middle">0.6</text>
<text transform="translate(494.60 404.95) rotate(0.03)" font-size="44.80" letter-spacing="-0.60" text-anchor="middle">0.8</text>
<text transform="translate(600.76 404.95) rotate(0.03)" font-size="44.80" letter-spacing="-0.60" text-anchor="middle">1.0</text>
<g fill="none" stroke-linecap="butt">
<path d="M332.2 79.5 H357.0" stroke="#ff0000" stroke-width="3.5" stroke-dasharray="10.8 3.5"/>
<path d="M332.2 130.9 H360.2" stroke="#00ff00" stroke-width="3.4"/>
<path d="M332.2 182.4 H360.2" stroke="#0000ff" stroke-width="3.5" stroke-dasharray="5.4 3.6 10.6 3.4"/>
<path d="M332.2 233.9 H360.2" stroke="#000" stroke-width="1.75"/>
<path d="M332.2 285.4 H360.2" stroke="#808080" stroke-width="1.75"/>
</g>
<text transform="translate(374.87 88.55) rotate(0.03) scale(1.040 1.000)" font-size="27.00" class="it">D</text>
<text transform="translate(395.42 87.55) rotate(0.03) scale(1.000 1.000)" font-size="24.50">(</text>
<text transform="translate(402.91 87.90) rotate(0.03) scale(1.095 1.000)" font-size="29.20" class="it">ρ</text>
<text transform="translate(417.49 92.60) rotate(0.03) scale(1.050 1.000)" font-size="20.00">A</text>
<text transform="translate(432.60 92.60) rotate(0.03) scale(1.065 1.000)" font-size="20.00">b</text>
<text transform="translate(442.58 92.60) rotate(0.03) scale(0.990 1.000)" font-size="20.00">B</text>
<text transform="translate(456.66 87.15) rotate(0.03) scale(1.000 1.000)" font-size="24.50">)</text>
<text transform="translate(374.46 139.35) rotate(0.03) scale(1.080 1.000)" font-size="27.50" class="it">F</text>
<text transform="translate(392.42 139.05) rotate(0.03) scale(1.000 1.000)" font-size="24.50">(</text>
<text transform="translate(399.91 139.40) rotate(0.03) scale(1.095 1.000)" font-size="29.20" class="it">ρ</text>
<text transform="translate(414.49 144.10) rotate(0.03) scale(1.050 1.000)" font-size="20.00">A</text>
<text transform="translate(429.60 144.10) rotate(0.03) scale(1.065 1.000)" font-size="20.00">b</text>
<text transform="translate(439.58 144.10) rotate(0.03) scale(0.990 1.000)" font-size="20.00">B</text>
<text transform="translate(453.66 138.65) rotate(0.03) scale(1.000 1.000)" font-size="24.50">)</text>
<text transform="translate(374.95 191.35) rotate(0.03) scale(1.040 1.000)" font-size="27.70" class="it">O</text>
<text transform="translate(395.42 190.45) rotate(0.03) scale(1.000 1.000)" font-size="24.50">(</text>
<text transform="translate(402.91 190.80) rotate(0.03) scale(1.095 1.000)" font-size="29.20" class="it">ρ</text>
<text transform="translate(417.49 195.50) rotate(0.03) scale(1.050 1.000)" font-size="20.00">A</text>
<text transform="translate(432.60 195.50) rotate(0.03) scale(1.065 1.000)" font-size="20.00">b</text>
<text transform="translate(442.58 195.50) rotate(0.03) scale(0.990 1.000)" font-size="20.00">B</text>
<text transform="translate(456.66 190.05) rotate(0.03) scale(1.000 1.000)" font-size="24.50">)</text>
<path d="M386.2 189.9 L377.6 195.0 L376.4 196.2 C378.9 194.0 381.7 193.4 384.3 194.2 C387.7 195.3 390.3 195.7 393.0 192.8 C391.7 197.0 387.6 198.0 383.6 196.7 C380.8 195.8 378.6 195.8 376.2 196.5 L375.8 195.8 L384.2 190.0 Z" fill="#000"/>
<text transform="translate(374.91 243.30) rotate(0.03) scale(1.020 1.000)" font-size="29.60">C</text>
<text transform="translate(393.82 241.95) rotate(0.03) scale(1.000 1.000)" font-size="24.50">(</text>
<text transform="translate(401.31 242.30) rotate(0.03) scale(1.095 1.000)" font-size="29.20" class="it">ρ</text>
<text transform="translate(415.89 247.00) rotate(0.03) scale(1.050 1.000)" font-size="20.00">A</text>
<text transform="translate(431.00 247.00) rotate(0.03) scale(1.065 1.000)" font-size="20.00">b</text>
<text transform="translate(440.98 247.00) rotate(0.03) scale(0.990 1.000)" font-size="20.00">B</text>
<text transform="translate(455.06 241.55) rotate(0.03) scale(1.000 1.000)" font-size="24.50">)</text>
<text transform="translate(374.87 294.45) rotate(0.03) scale(1.040 1.000)" font-size="27.00" class="it">D</text>
<text transform="translate(395.07 284.55) rotate(0.03) scale(0.950 1.000)" font-size="20.00">2</text>
<text transform="translate(406.32 293.45) rotate(0.03) scale(1.000 1.000)" font-size="24.50">(</text>
<text transform="translate(413.81 293.80) rotate(0.03) scale(1.095 1.000)" font-size="29.20" class="it">ρ</text>
<text transform="translate(428.39 298.50) rotate(0.03) scale(1.050 1.000)" font-size="20.00">A</text>
<text transform="translate(443.50 298.50) rotate(0.03) scale(1.065 1.000)" font-size="20.00">b</text>
<text transform="translate(453.48 298.50) rotate(0.03) scale(0.990 1.000)" font-size="20.00">B</text>
<text transform="translate(467.56 293.05) rotate(0.03) scale(1.000 1.000)" font-size="24.50">)</text>
<text transform="translate(477.08 297.05) rotate(0.03) scale(1.000 1.000)" font-size="28.50">+</text>
<text transform="translate(494.46 293.75) rotate(0.03) scale(1.080 1.000)" font-size="27.50" class="it">F</text>
<text transform="translate(512.62 293.45) rotate(0.03) scale(1.000 1.000)" font-size="24.50">(</text>
<text transform="translate(520.11 293.80) rotate(0.03) scale(1.095 1.000)" font-size="29.20" class="it">ρ</text>
<text transform="translate(534.69 298.50) rotate(0.03) scale(1.050 1.000)" font-size="20.00">A</text>
<text transform="translate(549.80 298.50) rotate(0.03) scale(1.065 1.000)" font-size="20.00">b</text>
<text transform="translate(559.78 298.50) rotate(0.03) scale(0.990 1.000)" font-size="20.00">B</text>
<text transform="translate(573.86 293.05) rotate(0.03) scale(1.000 1.000)" font-size="24.50">)</text>
<text transform="translate(320.49 465.60) rotate(0.03) scale(1.090 1.000)" font-size="41.60" class="it">ω</text>
</svg></body></html>
